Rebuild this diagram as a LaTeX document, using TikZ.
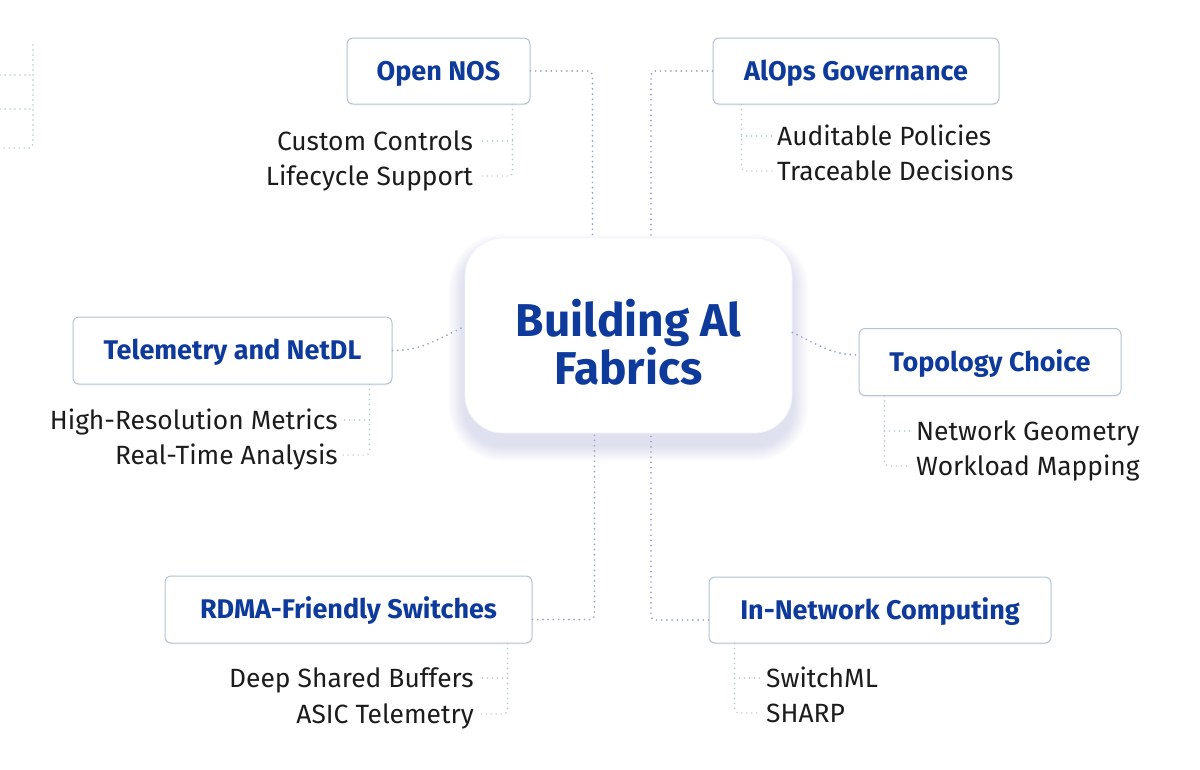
\documentclass[tikz,border=0pt]{standalone}
\usepackage{fontspec}
\setmainfont{Fira Sans}
\usetikzlibrary{shadows,backgrounds}
\definecolor{titleblue}{HTML}{0E3A9B}
\definecolor{textdark}{HTML}{1C1C1C}
\definecolor{boxborder}{HTML}{B4C3CF}
\definecolor{maindot}{HTML}{97A4C3}
\definecolor{subdot}{HTML}{B3CACF}
\definecolor{shadowc}{HTML}{7E8FE0}
\tikzset{
  topic/.style={draw=boxborder, line width=1pt, fill=white, rounded corners=6pt,
    inner sep=0pt, text height=18.6pt, text depth=0pt, text=titleblue,
    font=\fontsize{27}{30}\selectfont\bfseries,
    drop shadow={opacity=0.06, shadow xshift=0pt, shadow yshift=-2pt}},
  leafL/.style={anchor=east, inner sep=0pt, text height=18.2pt, text depth=0pt,
    text=textdark, font=\fontsize{26.4}{30}\selectfont},
  leafR/.style={leafL, anchor=west},
  mainline/.style={draw=maindot, line width=1.9pt, dash pattern=on 0pt off 5.2pt, line cap=round, rounded corners=4pt},
  subline/.style={draw=subdot, line width=1.7pt, dash pattern=on 0pt off 5pt, line cap=round, rounded corners=4pt},
}
\begin{document}
\begin{tikzpicture}[x=1pt, y=-1pt]
\useasboundingbox (0,0) rectangle (1200,769);

% center
\node[fill=white, draw=white!90!shadowc, line width=0.8pt, rounded corners=38pt,
  minimum width=327pt, minimum height=195pt, inner sep=0pt] (ctr) at (628.5,335.5) {};
\node[align=center, inner sep=0pt, text=titleblue,
  font=\fontsize{46}{47}\selectfont\bfseries] (ctrtitle) at (628.5,342) {Building Al\\Fabrics};

% topic boxes
\node[topic, minimum width=183pt, minimum height=66pt] (os) at (438.5,71) {Open NOS};
\node[topic, minimum width=286pt, minimum height=66pt] (ai) at (856,71) {AlOps Governance};
\node[topic, minimum width=319pt, minimum height=67pt] (tel) at (232.5,350.5) {Telemetry and NetDL};
\node[topic, minimum width=262pt, minimum height=67pt] (topo) at (990,362) {Topology Choice};
\node[topic, minimum width=367pt, minimum height=67pt] (rd) at (348.5,609.5) {RDMA-Friendly Switches};
\node[topic, minimum width=342pt, minimum height=66pt] (inc) at (880,610) {In-Network Computing};

% leaves
\node[leafL] (cc) at (473,141) {Custom Controls};
\node[leafL] (lc) at (473,176) {Lifecycle Support};
\node[leafR] (ap) at (777,136) {Auditable Policies};
\node[leafR] (td) at (777,171) {Traceable Decisions};
\node[leafL] (hr) at (338,420) {High-Resolution Metrics};
\node[leafL] (rt) at (338,455) {Real-Time Analysis};
\node[leafR] (ng) at (916,431) {Network Geometry};
\node[leafR] (wm) at (916,466) {Workload Mapping};
\node[leafL] (ds) at (474,678) {Deep Shared Buffers};
\node[leafL] (at) at (474,714) {ASIC Telemetry};
\node[leafR] (sm) at (766,678) {SwitchML};
\node[leafR] (sh) at (766,713) {SHARP};

% main connectors
\draw[mainline] (os.east) -| ([xshift=-36pt]ctr.north);
\draw[mainline] (ai.west) -| ([xshift=22.5pt]ctr.north);
\draw[mainline] ([yshift=-10pt]rd.east) -| ([xshift=-34pt]ctr.south);
\draw[mainline] ([yshift=-10pt]inc.west) -| ([xshift=22.5pt]ctr.south);
\draw[mainline] (tel.east) to[out=0, in=205] ([yshift=9pt]ctr.west);
\draw[mainline] ([yshift=3pt]ctr.east) to[out=-25, in=180] ([yshift=7pt]topo.west);

% sub connectors
\coordinate (osv) at ([xshift=-18pt]os.south east);
\draw[subline] (osv) |- ([xshift=5pt]lc.east);
\draw[subline] (osv |- cc.east) -- ([xshift=5pt]cc.east);
\coordinate (aiv) at ([xshift=29pt]ai.south west);
\draw[subline] (aiv) |- ([xshift=-5pt]td.west);
\draw[subline] (aiv |- ap.west) -- ([xshift=-5pt]ap.west);
\coordinate (telv) at ([xshift=-23pt]tel.south east);
\draw[subline] (telv) |- ([xshift=5pt]rt.east);
\draw[subline] (telv |- hr.east) -- ([xshift=5pt]hr.east);
\coordinate (topov) at ([xshift=26pt]topo.south west);
\draw[subline] (topov) |- ([xshift=-5pt]wm.west);
\draw[subline] (topov |- ng.west) -- ([xshift=-5pt]ng.west);
\coordinate (rdv) at ([xshift=-25pt]rd.south east);
\draw[subline] (rdv) |- ([xshift=5pt]at.east);
\draw[subline] (rdv |- ds.east) -- ([xshift=5pt]ds.east);
\coordinate (incv) at ([xshift=26pt]inc.south west);
\draw[subline] (incv) |- ([xshift=-5pt]sh.west);
\draw[subline] (incv |- sm.west) -- ([xshift=-5pt]sm.west);

% partial branch at the left edge
\coordinate (lv) at (33,45);
\coordinate (l1) at (0,75);
\coordinate (l2) at (0,109);
\coordinate (l3) at (0,148);
\draw[subline] (lv) |- (l3);
\draw[subline] (l1) -- (l1 -| lv);
\draw[subline] (l2) -- (l2 -| lv);

\begin{scope}[on background layer]
  \fill[white] (0,0) rectangle (1200,769);
  \foreach \i in {1,...,16}{
    \pgfmathsetmacro\rr{38+\i}
    \fill[shadowc, opacity=0.011, rounded corners=\rr pt]
      ([xshift={-\i*1pt}, yshift={(\i-12)*1pt}]ctr.north west) rectangle
      ([xshift={\i*1pt}, yshift={(-\i-12)*1pt}]ctr.south east);
  }
\end{scope}
\end{tikzpicture}
\end{document}
